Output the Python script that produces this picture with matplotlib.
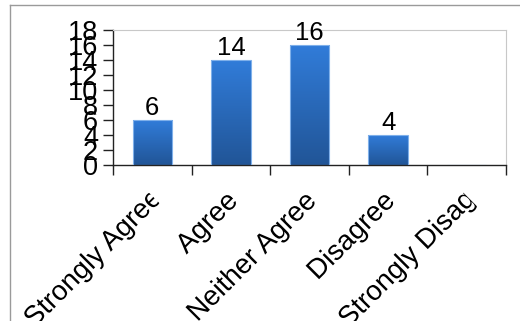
import numpy as np
import matplotlib
matplotlib.use("Agg")
import matplotlib.pyplot as plt
from matplotlib.colors import LinearSegmentedColormap
from matplotlib.patches import Polygon, PathPatch
from matplotlib.lines import Line2D
from matplotlib.transforms import IdentityTransform, Affine2D
from matplotlib.textpath import TextPath
from matplotlib.font_manager import FontProperties

# Survey responses
categories = ["Strongly Agree", "Agree", "Neither Agree", "Disagree", "Strongly Disagree"]
responses = [6, 14, 16, 4, 0]
y_ticks = list(range(0, 19, 2))

plt.rcParams['font.family'] = ['Liberation Sans', 'DejaVu Sans']

fig = plt.figure(figsize=(5.2, 3.21), dpi=100)
ax = fig.add_axes([113 / 520, 1 - 165 / 321, 393 / 520, 135 / 321])

# outer frame (left and top edges)
fig.add_artist(Line2D([9.5 / 520, 9.5 / 520], [0, 1 - 4.5 / 321], transform=fig.transFigure,
                      color='#9a9a9a', lw=1))
fig.add_artist(Line2D([9.5 / 520, 1], [1 - 4.5 / 321, 1 - 4.5 / 321], transform=fig.transFigure,
                      color='#9a9a9a', lw=1))

# bars with a vertical blue gradient
cmap = LinearSegmentedColormap.from_list('bluebar', ['#215597', '#317cd9'])
grad = np.linspace(0, 1, 256).reshape(-1, 1)
width = 0.5
bars = ax.bar(range(len(categories)), responses, width=width, color='none',
              edgecolor='#7fb0ea', linewidth=0.8, zorder=3)
for bar, val in zip(bars, responses):
    if val <= 0:
        continue
    x0 = bar.get_x()
    ax.imshow(grad, extent=[x0, x0 + width, 0, val], origin='lower', cmap=cmap,
              aspect='auto', zorder=2)
    ax.annotate(str(val), (x0 + width / 2, val), xytext=(0, 0), textcoords='offset points',
                ha='center', va='bottom', fontsize=18.5, color='black')

ax.set_xlim(-0.5, len(categories) - 0.5)
ax.set_ylim(0, 18)
ax.set_yticks(y_ticks)
ax.set_yticklabels([str(v) for v in y_ticks], fontsize=19.5)
ax.set_xticks(np.arange(len(categories) + 1) - 0.5)
ax.set_xticklabels([])
ax.tick_params(axis='both', direction='out', length=7.2, width=1, color='#222222')
ax.tick_params(axis='y', pad=3.6)

for side in ['top', 'right']:
    ax.spines[side].set_color('#c8c8c8')
    ax.spines[side].set_linewidth(0.8)
for side in ['left', 'bottom']:
    ax.spines[side].set_color('#222222')
    ax.spines[side].set_linewidth(1)

# rotated category labels as text paths, long ones cut to a fixed length
fp = FontProperties(family='Liberation Sans')
size_px = 20 * fig.dpi / 72
max_len = 177.0
d = np.array([1, 1]) / np.sqrt(2)
n = np.array([-1, 1]) / np.sqrt(2)
ybase = ax.transAxes.transform((0, 0))[1] - 33
for i, name in enumerate(categories):
    anchor = np.array([ax.transData.transform((i, 0))[0] + 2, ybase])
    tp = TextPath((0, 0), name, size=size_px, prop=fp)
    ext = tp.get_extents()
    if ext.xmax > max_len:
        origin = anchor - max_len * d
        shift = (0, -0.26 * size_px)
    else:
        origin = anchor
        shift = (-ext.xmax, -0.26 * size_px)
    tr = Affine2D().translate(*shift).rotate_deg(45).translate(*origin)
    label = PathPatch(tr.transform_path(tp), transform=IdentityTransform(),
                      facecolor='black', edgecolor='none', lw=0)
    big = 1000
    clip = Polygon([anchor + big * n, anchor - big * n,
                    anchor - big * n - big * d, anchor + big * n - big * d],
                   transform=IdentityTransform())
    fig.add_artist(label)
    label.set_clip_path(clip)

fig.savefig('out.png', dpi=100)
